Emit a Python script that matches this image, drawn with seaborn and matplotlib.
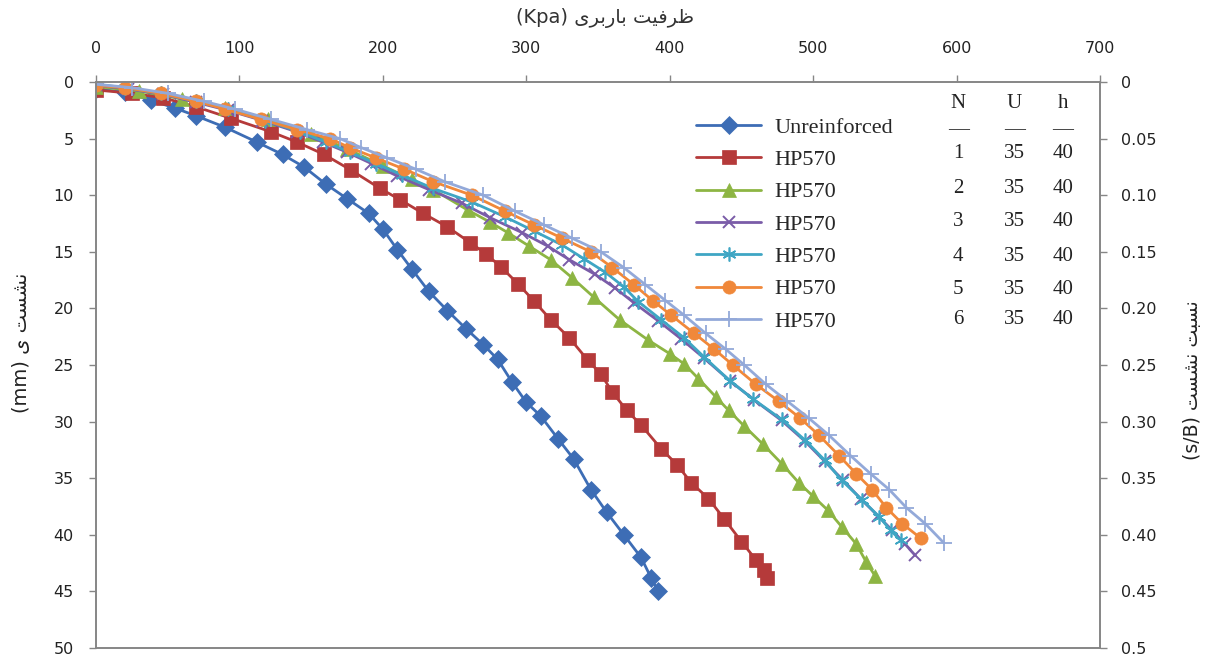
import matplotlib
matplotlib.use("Agg")
import matplotlib.pyplot as plt
import seaborn as sns
import pandas as pd

# Load (kPa) vs settlement (mm) for each test
unreinforced_load = [0, 20, 38, 55, 70, 90, 112, 130, 145, 160, 175, 190, 200, 210, 220, 232, 245,
                     258, 270, 280, 290, 300, 310, 322, 333, 345, 356, 368, 380, 387, 392]
unreinforced_settle = [0.6, 0.9, 1.6, 2.3, 3.0, 4.0, 5.3, 6.4, 7.5, 9.0, 10.3, 11.6, 13.0, 14.8, 16.5,
                       18.5, 20.2, 21.8, 23.2, 24.5, 26.5, 28.3, 29.5, 31.5, 33.3, 36.0, 38.0, 40.0,
                       42.0, 43.8, 45.0]

n1_load = [0, 25, 47, 70, 94, 122, 140, 159, 178, 198, 212, 228, 245, 261, 272, 282, 294, 305, 317,
           330, 343, 352, 360, 370, 380, 394, 405, 415, 427, 438, 450, 460, 466, 468]
n1_settle = [0.7, 1.0, 1.4, 2.2, 3.2, 4.4, 5.3, 6.4, 7.8, 9.4, 10.4, 11.6, 12.8, 14.2, 15.2, 16.3,
             17.8, 19.3, 21.0, 22.6, 24.6, 25.8, 27.4, 29.0, 30.3, 32.4, 33.8, 35.4, 36.8, 38.6,
             40.6, 42.2, 43.1, 43.8]

n2_load = [0, 30, 60, 90, 120, 150, 175, 200, 220, 235, 259, 275, 287, 302, 317, 332, 347, 365, 385,
           400, 410, 420, 432, 441, 452, 465, 478, 490, 500, 510, 520, 530, 537, 543]
n2_settle = [0.4, 0.8, 1.5, 2.3, 3.3, 4.6, 5.9, 7.4, 8.6, 9.5, 11.3, 12.4, 13.3, 14.5, 15.7, 17.3,
             19.0, 21.0, 22.8, 24.0, 24.9, 26.2, 27.8, 29.0, 30.4, 32.0, 33.7, 35.4, 36.6, 37.8,
             39.3, 40.8, 42.4, 43.6]

n3_load = [0, 22, 47, 70, 92, 116, 140, 158, 175, 192, 210, 232, 255, 275, 297, 315, 330, 348, 362,
           375, 392, 408, 424, 442, 459, 478, 494, 508, 521, 533, 545, 555, 564, 571]
n3_settle = [0.3, 0.6, 1.1, 1.8, 2.5, 3.4, 4.4, 5.3, 6.2, 7.2, 8.3, 9.5, 10.7, 12.0, 13.3, 14.5,
             15.7, 17.0, 18.2, 19.5, 21.1, 22.7, 24.4, 26.4, 28.1, 29.9, 31.7, 33.5, 35.2, 36.8,
             38.3, 39.6, 40.8, 41.8]

n4_load = [0, 20, 45, 70, 92, 118, 142, 160, 177, 195, 213, 235, 262, 285, 306, 325, 340, 355, 368,
           378, 394, 410, 424, 442, 458, 478, 494, 508, 520, 534, 546, 554, 561]
n4_settle = [0.2, 0.5, 1.0, 1.7, 2.4, 3.4, 4.4, 5.3, 6.2, 7.2, 8.2, 9.4, 10.6, 11.9, 13.2, 14.4,
             15.6, 16.8, 18.1, 19.4, 21.0, 22.6, 24.3, 26.4, 28.0, 29.8, 31.6, 33.4, 35.2, 36.9,
             38.4, 39.6, 40.5]

n5_load = [0, 20, 45, 70, 90, 115, 140, 163, 177, 195, 215, 235, 262, 285, 305, 325, 345, 360, 375,
           388, 401, 417, 431, 444, 460, 476, 491, 504, 518, 530, 541, 551, 562, 575]
n5_settle = [0.3, 0.5, 1.0, 1.7, 2.4, 3.3, 4.2, 5.0, 5.8, 6.7, 7.7, 8.8, 10.0, 11.4, 12.6, 13.8,
             15.0, 16.4, 17.9, 19.3, 20.6, 22.2, 23.6, 25.0, 26.7, 28.2, 29.7, 31.2, 33.0, 34.6,
             36.0, 37.6, 39.0, 40.3]

n6_load = [0, 25, 50, 75, 97, 122, 147, 170, 185, 203, 223, 243, 270, 292, 312, 332, 352, 368, 383,
           397, 410, 425, 439, 452, 467, 482, 497, 511, 526, 540, 553, 565, 578, 591]
n6_settle = [0.2, 0.5, 1.0, 1.7, 2.4, 3.3, 4.2, 5.0, 5.8, 6.7, 7.7, 8.8, 10.0, 11.4, 12.6, 13.8,
             15.0, 16.4, 17.9, 19.3, 20.6, 22.2, 23.6, 25.0, 26.7, 28.2, 29.7, 31.2, 33.0, 34.6,
             36.0, 37.6, 39.0, 40.7]

series_labels = ["Unreinforced", "HP570", "HP570", "HP570", "HP570", "HP570", "HP570"]
layer_count = ["1", "2", "3", "4", "5", "6"]
u_values = ["35", "35", "35", "35", "35", "35"]
h_values = ["40", "40", "40", "40", "40", "40"]

x_ticks = [0, 100, 200, 300, 400, 500, 600, 700]
y_ticks = [0, 5, 10, 15, 20, 25, 30, 35, 40, 45, 50]
ratio_ticks = [0, 0.05, 0.10, 0.15, 0.20, 0.25, 0.30, 0.35, 0.40, 0.45, 0.5]
ratio_labels = ["0", "0.05", "0.10", "0.15", "0.20", "0.25", "0.30", "0.35", "0.40", "0.45", "0.5"]

# Persian captions, written in visual order with Arabic presentation forms
title_fa = "(Kpa) " + "\ufeef\ufeae\ufe91\ufead\ufe8e\ufe91" + " " + "\ufe96\ufef4\ufed3\ufeae\ufec7"
left_label_fa = "(mm) " + "\ufeef" + " " + "\ufe96\ufeb4\ufeb8\ufee7"
right_label_fa = "(s/B) " + "\ufe96\ufeb4\ufeb8\ufee7" + " " + "\ufe96\ufe92\ufeb4\ufee7"

sns.set_theme(style="white")
plt.rcParams["font.family"] = ["DejaVu Sans"]

fig = plt.figure(figsize=(12.19, 6.62), dpi=100)
ax = fig.add_axes([0.0788, 0.0211, 0.8236, 0.855])

styles = [
    dict(color="#3D6DB5", marker="D", markersize=9),
    dict(color="#B53A3A", marker="s", markersize=10.5),
    dict(color="#8DB543", marker="^", markersize=10.5),
    dict(color="#7A5CA8", marker="x", markersize=8, markeredgewidth=1.4),
    dict(color="#3FA6C4", marker=(6, 2, 0), markersize=10, markeredgewidth=1.2),
    dict(color="#F0883A", marker="o", markersize=9.5),
    dict(color="#93A9D9", marker="+", markersize=11, markeredgewidth=1.3),
]

loads = [unreinforced_load, n1_load, n2_load, n3_load, n4_load, n5_load, n6_load]
settles = [unreinforced_settle, n1_settle, n2_settle, n3_settle, n4_settle, n5_settle, n6_settle]

for load, settle, label, st in zip(loads, settles, series_labels, styles):
    df = pd.DataFrame({"load": load, "settle": settle})
    sns.lineplot(data=df, x="load", y="settle", ax=ax, sort=False, estimator=None,
                 color=st["color"], marker=st["marker"], markersize=st["markersize"],
                 markeredgewidth=st.get("markeredgewidth", 0.5),
                 markeredgecolor=st["color"], linewidth=2.0, label=label)

ax.set_xlim(0, 700)
ax.set_ylim(50, 0)
ax.xaxis.tick_top()
ax.set_xticks(x_ticks)
ax.set_yticks(y_ticks)
ax.set_xlabel("")
ax.set_ylabel("")
ax.tick_params(axis="x", which="both", top=True, bottom=False, direction="out", length=5,
               width=1, color="#868686", pad=14, labelsize=11.5, labelcolor="#222222")
ax.tick_params(axis="y", which="both", left=True, direction="out", length=5, width=1,
               color="#868686", pad=11, labelsize=11.5, labelcolor="#222222")
for sp in ax.spines.values():
    sp.set_color("#868686")
    sp.set_linewidth(1.2)
    sp.set_visible(True)

ax2 = ax.twinx()
ax2.set_ylim(0.5, 0)
ax2.set_yticks(ratio_ticks)
ax2.set_yticklabels(ratio_labels)
ax2.tick_params(axis="y", direction="out", length=5, width=1, color="#868686", pad=10,
                labelsize=11.5, labelcolor="#222222")
for sp in ax2.spines.values():
    sp.set_color("#868686")
    sp.set_linewidth(1.2)

leg = ax.legend(loc="upper left", bbox_to_anchor=(0.598, 0.938), frameon=False,
                prop={"family": "Liberation Serif", "size": 16}, handlelength=2.9,
                labelspacing=0.53, borderpad=0, borderaxespad=0, handletextpad=0.6)

# Parameter table beside the legend
serif = {"family": "Liberation Serif", "size": 15, "color": "#222222"}
col_x = [0.786, 0.832, 0.872]
fig.text(col_x[0], 1 - 103 / 662, "N", ha="center", va="center", **serif)
fig.text(col_x[1], 1 - 103 / 662, "U", ha="center", va="center", **serif)
fig.text(col_x[2], 1 - 103 / 662, "h", ha="center", va="center", **serif)
for cx in col_x:
    fig.text(cx, 1 - 130 / 662, "\u2014", ha="center", va="center", **serif)
row_y = [154, 188, 222, 257, 290, 320]
for yy, n, u, h in zip(row_y, layer_count, u_values, h_values):
    fig.text(col_x[0], 1 - yy / 662, n, ha="center", va="center", **serif)
    fig.text(col_x[1], 1 - yy / 662, u, ha="center", va="center", **serif)
    fig.text(col_x[2], 1 - yy / 662, h, ha="center", va="center", **serif)

fig.text(0.496, 1 - 18 / 662, title_fa, ha="center", va="center", fontsize=14, color="#333333")
fig.text(0.018, 1 - 343 / 662, left_label_fa, ha="center", va="center", rotation=90,
         fontsize=14, color="#222222")
fig.text(0.978, 1 - 380 / 662, right_label_fa, ha="center", va="center", rotation=90,
         fontsize=13.5, color="#222222")

fig.savefig("out.png", dpi=100)
